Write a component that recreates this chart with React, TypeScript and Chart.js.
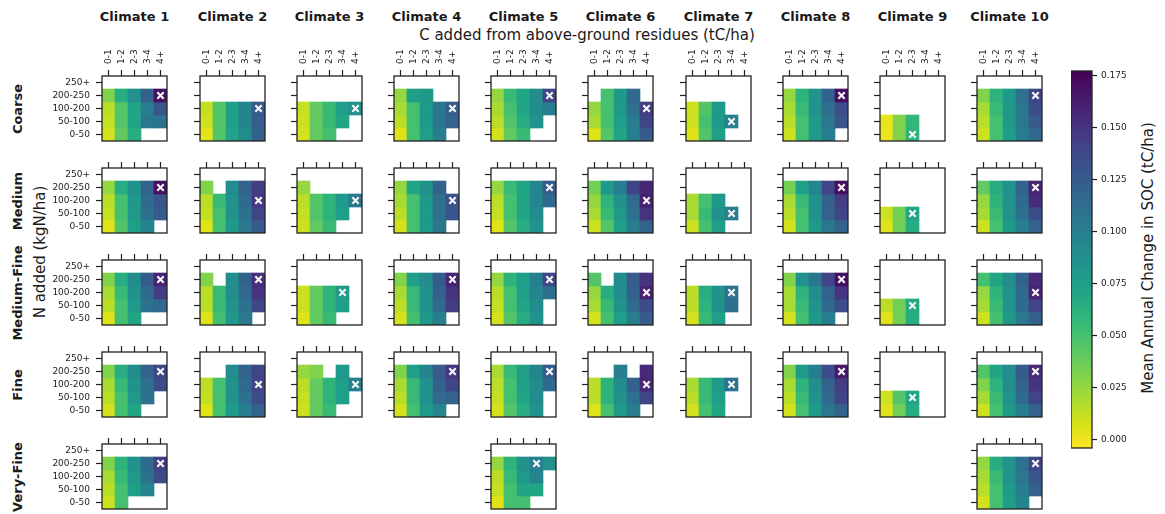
import React, { useEffect, useRef } from "react";
import { Chart, registerables } from "chart.js";
Chart.register(...registerables);

const FONT = "'DejaVu Sans', sans-serif";

// ---------------- DATA ----------------
const CLIMATES = ["Climate 1", "Climate 2", "Climate 3", "Climate 4", "Climate 5", "Climate 6", "Climate 7", "Climate 8", "Climate 9", "Climate 10"];
const SOILS = ["Coarse", "Medium", "Medium-Fine", "Fine", "Very-Fine"];
const C_BINS = ["0-1", "1-2", "2-3", "3-4", "4+"];
const N_BINS = ["250+", "200-250", "100-200", "50-100", "0-50"]; // top to bottom
const CBAR_TICKS = [0, 0.025, 0.05, 0.075, 0.1, 0.125, 0.15, 0.175];
const CBAR_MIN = -0.004;
const CBAR_MAX = 0.177;

const _ = null;
const E = [_, _, _, _, _];

// each grid: rows top->bottom (250+, 200-250, 100-200, 50-100, 0-50), columns C bins
const COARSE = [
  [E, [0.03, 0.065, 0.085, 0.12, 0.17], [0.015, 0.045, 0.07, 0.1, 0.13], [0.012, 0.045, 0.07, 0.105, 0.108], [0.008, 0.04, 0.065, _, _]],
  [E, E, [0.012, 0.045, 0.075, 0.095, 0.125], [0.01, 0.045, 0.075, 0.095, 0.122], [0.004, 0.045, 0.072, 0.09, 0.12]],
  [E, E, [0.012, 0.04, 0.055, 0.075, 0.088], [0.01, 0.04, 0.055, 0.07, _], [0.008, 0.04, 0.05, _, _]],
  [E, [0.025, 0.075, 0.08, _, _], [0.02, 0.05, 0.08, 0.105, 0.125], [0.015, 0.05, 0.08, 0.105, 0.12], [0.005, 0.05, 0.075, 0.1, _]],
  [E, [0.025, 0.055, 0.07, 0.09, 0.14], [0.02, 0.05, 0.07, 0.09, 0.1], [0.015, 0.045, 0.065, 0.085, _], [0.008, 0.04, 0.055, _, _]],
  [E, [_, 0.05, 0.08, 0.115, _], [0.025, 0.05, 0.08, 0.11, 0.145], [0.02, 0.05, 0.075, 0.1, 0.14], [0.005, 0.045, 0.07, 0.1, 0.125]],
  [E, E, [0.01, 0.045, 0.08, _, _], [0.01, 0.05, 0.08, 0.1, _], [0.005, 0.045, 0.075, _, _]],
  [E, [0.025, 0.06, 0.085, 0.12, 0.17], [0.02, 0.055, 0.085, 0.11, 0.135], [0.015, 0.05, 0.08, 0.105, 0.13], [0.01, 0.05, 0.08, 0.1, _]],
  [E, E, E, [0.002, 0.03, 0.058, _, _], [0.001, 0.03, 0.06, _, _]],
  [E, [0.03, 0.06, 0.08, 0.11, 0.14], [0.02, 0.055, 0.08, 0.105, 0.135], [0.015, 0.05, 0.08, 0.105, 0.125], [0.01, 0.05, 0.075, 0.1, 0.115]],
];

const MEDIUM = [
  [E, [0.025, 0.065, 0.085, 0.12, 0.17], [0.015, 0.05, 0.08, 0.115, 0.13], [0.012, 0.05, 0.08, 0.11, 0.125], [0.005, 0.045, 0.075, 0.095, _]],
  [E, [0.03, _, 0.09, 0.12, 0.145], [0.015, 0.055, 0.085, 0.115, 0.148], [0.012, 0.05, 0.085, 0.11, 0.14], [0.005, 0.05, 0.08, 0.105, 0.125]],
  [E, [0.025, _, _, _, _], [0.015, 0.045, 0.06, 0.08, 0.105], [0.012, 0.045, 0.06, 0.075, _], [0.01, 0.04, 0.055, _, _]],
  [E, [0.025, 0.07, 0.085, 0.12, _], [0.02, 0.05, 0.08, 0.11, 0.132], [0.015, 0.05, 0.08, 0.11, 0.13], [0.008, 0.05, 0.08, 0.105, _]],
  [E, [0.025, 0.055, 0.07, 0.095, 0.125], [0.015, 0.05, 0.07, 0.095, 0.115], [0.012, 0.05, 0.07, 0.09, _], [0.005, 0.045, 0.065, 0.085, _]],
  [E, [0.035, 0.08, 0.1, 0.14, 0.158], [0.025, 0.06, 0.085, 0.115, 0.162], [0.02, 0.055, 0.08, 0.11, 0.15], [0.01, 0.045, 0.075, 0.1, 0.12]],
  [E, E, [0.02, 0.05, 0.08, _, _], [0.02, 0.055, 0.085, 0.1, _], [0.01, 0.05, 0.075, _, _]],
  [E, [0.035, 0.075, 0.095, 0.14, 0.17], [0.02, 0.055, 0.085, 0.12, 0.145], [0.015, 0.05, 0.085, 0.12, 0.14], [0.008, 0.05, 0.08, 0.105, 0.12]],
  [E, E, E, [0.01, 0.035, 0.07, _, _], [0.005, 0.035, 0.065, _, _]],
  [E, [0.04, 0.065, 0.085, 0.12, 0.16], [0.025, 0.06, 0.085, 0.115, 0.155], [0.02, 0.055, 0.085, 0.11, 0.135], [0.01, 0.05, 0.08, 0.1, 0.12]],
];

const MEDIUM_FINE = [
  [E, [0.03, 0.065, 0.09, 0.125, 0.16], [0.02, 0.055, 0.085, 0.115, 0.145], [0.015, 0.05, 0.08, 0.11, 0.115], [0.005, 0.05, 0.07, _, _]],
  [E, [0.03, _, 0.09, 0.12, 0.152], [0.015, 0.055, 0.09, 0.115, 0.15], [0.015, 0.055, 0.085, 0.11, 0.14], [0.005, 0.05, 0.08, 0.105, _]],
  [E, E, [0.01, 0.04, 0.06, 0.078, _], [0.01, 0.04, 0.06, 0.075, _], [0.005, 0.04, 0.055, _, _]],
  [E, [0.03, 0.075, 0.09, 0.125, 0.16], [0.02, 0.055, 0.085, 0.12, 0.15], [0.015, 0.055, 0.085, 0.115, 0.145], [0.008, 0.05, 0.08, 0.1, _]],
  [E, [0.025, 0.06, 0.075, 0.1, 0.14], [0.015, 0.05, 0.075, 0.095, 0.11], [0.012, 0.05, 0.07, 0.09, _], [0.008, 0.045, 0.065, 0.085, _]],
  [E, [0.045, _, 0.09, 0.125, 0.15], [0.025, 0.065, 0.09, 0.12, 0.16], [0.02, 0.055, 0.085, 0.115, 0.135], [0.008, 0.05, 0.075, 0.1, 0.125]],
  [E, E, [0.015, 0.065, 0.085, 0.112, _], [0.015, 0.06, 0.085, 0.11, _], [0.008, 0.055, 0.075, _, _]],
  [E, [0.03, 0.085, 0.105, 0.14, 0.17], [0.02, 0.06, 0.09, 0.12, 0.15], [0.02, 0.055, 0.085, 0.115, 0.135], [0.008, 0.05, 0.08, 0.1, _]],
  [E, E, E, [0.015, 0.035, 0.067, _, _], [0.005, 0.035, 0.065, _, _]],
  [E, [0.05, 0.07, 0.09, 0.12, 0.155], [0.025, 0.06, 0.085, 0.115, 0.16], [0.02, 0.055, 0.085, 0.115, 0.14], [0.01, 0.05, 0.08, 0.105, 0.12]],
];

const FINE = [
  [E, [0.03, 0.065, 0.09, 0.12, 0.14], [0.02, 0.055, 0.085, 0.11, 0.135], [0.015, 0.05, 0.08, 0.11, _], [0.008, 0.05, 0.07, _, _]],
  [E, [_, _, 0.09, 0.12, 0.14], [0.015, 0.05, 0.085, 0.115, 0.142], [0.012, 0.05, 0.085, 0.11, 0.135], [0.005, 0.05, 0.08, 0.1, 0.12]],
  [E, [0.025, 0.03, _, 0.08, _], [0.015, 0.04, 0.06, 0.075, 0.1], [0.012, 0.04, 0.06, 0.075, _], [0.01, 0.04, 0.055, _, _]],
  [E, [0.03, 0.075, 0.095, 0.125, 0.15], [0.02, 0.055, 0.085, 0.12, 0.14], [0.015, 0.055, 0.085, 0.115, 0.12], [0.008, 0.05, 0.08, 0.095, _]],
  [E, [0.02, 0.055, 0.075, 0.095, 0.125], [0.015, 0.05, 0.075, 0.09, 0.115], [0.012, 0.05, 0.07, 0.09, _], [0.008, 0.045, 0.065, 0.085, _]],
  [E, [_, _, 0.1, _, 0.155], [0.015, 0.06, 0.09, 0.12, 0.158], [0.015, 0.06, 0.085, 0.11, 0.14], [0.005, 0.05, 0.08, 0.1, _]],
  [E, E, [0.02, 0.055, 0.08, 0.11, _], [0.015, 0.055, 0.075, _, _], [0.008, 0.05, 0.07, _, _]],
  [E, [0.03, 0.08, 0.1, 0.135, 0.165], [0.02, 0.06, 0.09, 0.12, 0.145], [0.015, 0.055, 0.085, 0.115, 0.14], [0.008, 0.05, 0.08, 0.105, 0.12]],
  [E, E, E, [0.01, 0.045, 0.07, _, _], [0.005, 0.035, 0.065, _, _]],
  [E, [0.045, 0.07, 0.09, 0.125, 0.155], [0.03, 0.06, 0.09, 0.12, 0.15], [0.02, 0.055, 0.085, 0.115, 0.14], [0.01, 0.05, 0.08, 0.1, 0.12]],
];

const VERY_FINE = [
  [E, [0.03, 0.06, 0.085, 0.115, 0.145], [0.02, 0.055, 0.08, 0.11, 0.135], [0.015, 0.05, 0.075, 0.095, _], [0.01, 0.05, _, _, _]],
  null,
  null,
  null,
  [E, [0.025, 0.06, 0.085, 0.1, 0.085], [0.015, 0.055, 0.08, 0.095, _], [0.012, 0.05, 0.07, 0.07, _], [0.005, 0.05, 0.05, _, _]],
  null,
  null,
  null,
  null,
  [E, [0.025, 0.065, 0.085, 0.11, 0.14], [0.02, 0.055, 0.085, 0.105, 0.13], [0.015, 0.05, 0.08, 0.1, 0.12], [0.008, 0.05, 0.075, 0.095, _]],
];

const SOIL_GRIDS = [COARSE, MEDIUM, MEDIUM_FINE, FINE, VERY_FINE];

// ---------------- COLORMAP (viridis) ----------------
const VIRIDIS = [
  "#440154", "#471365", "#482475", "#463480", "#414487", "#3b528b", "#355f8d",
  "#2f6c8e", "#2a788e", "#25848e", "#21918c", "#1e9c89", "#22a884", "#2fb47c",
  "#44bf70", "#5ec962", "#7ad151", "#9bd93c", "#bddf26", "#dfe318", "#fde725",
];
function hexToRgb(h: string) {
  return [parseInt(h.slice(1, 3), 16), parseInt(h.slice(3, 5), 16), parseInt(h.slice(5, 7), 16)];
}
const VIR_RGB = VIRIDIS.map(hexToRgb);
function viridis(t: number) {
  const x = Math.max(0, Math.min(1, t)) * (VIR_RGB.length - 1);
  const i = Math.min(VIR_RGB.length - 2, Math.floor(x));
  const f = x - i;
  const a = VIR_RGB[i], b = VIR_RGB[i + 1];
  const c = a.map((v, k) => Math.round(v + (b[k] - v) * f));
  return `rgb(${c[0]},${c[1]},${c[2]})`;
}
function colorFor(v: number) {
  const t = (v - CBAR_MIN) / (CBAR_MAX - CBAR_MIN);
  return viridis(1 - t); // reversed viridis
}

// ---------------- LAYOUT ----------------
const PANEL = 65;
const PAD = 16;
const TICK_FONT = 9;
const panelLeft = (c: number) => Math.round(102.3 + c * 97.2);
const panelTop = (r: number) => Math.round(76 + r * 91.9);
const INK = "#222";

const framePlugin = {
  id: "frame",
  afterDatasetsDraw(chart: any) {
    const { ctx, chartArea } = chart;
    const { left, top, right, bottom } = chartArea;
    ctx.save();
    ctx.strokeStyle = INK;
    ctx.lineWidth = 1.3;
    ctx.strokeRect(left, top, right - left, bottom - top);
    ctx.restore();
  },
};

function Panel({ grid, row, col }: { grid: (number | null)[][]; row: number; col: number }) {
  const ref = useRef<HTMLCanvasElement>(null);
  const yW = col === 0 ? 60 : 16;
  const xH = row === 0 ? 40 : 16;
  const w = yW + PANEL + PAD;
  const h = xH + PANEL + PAD;
  useEffect(() => {
    const nRows = N_BINS.length;
    let best = -Infinity, bi = -1, bj = -1;
    grid.forEach((vals, r) =>
      vals.forEach((v, c) => {
        if (v != null && v > best) { best = v; bi = r; bj = c; }
      })
    );
    const datasets: any[] = grid.map((vals, r) => ({
      type: "bar",
      data: vals.map((v) => (v == null ? null : [nRows - 1 - r, nRows - r])),
      backgroundColor: vals.map((v) => (v == null ? "rgba(0,0,0,0)" : colorFor(v))),
      borderWidth: 0,
      barPercentage: 1,
      categoryPercentage: 1,
      grouped: false,
      order: 1,
    }));
    datasets.push({
      type: "line",
      data: C_BINS.map((_l, c) => (c === bj ? nRows - bi - 0.5 : null)),
      showLine: false,
      pointStyle: "crossRot",
      pointRadius: 4.5,
      pointBorderWidth: 2.2,
      pointBorderColor: "#f6f6f6",
      pointBackgroundColor: "#f6f6f6",
      order: 0,
    });
    const tickGrid = { drawOnChartArea: false, drawTicks: true, tickLength: 6, tickColor: INK, tickWidth: 1.2, offset: false };
    const chart = new Chart(ref.current as HTMLCanvasElement, {
      type: "bar",
      data: { labels: C_BINS, datasets },
      options: {
        responsive: false,
        animation: false,
        events: [],
        layout: { padding: { left: 0, top: 0, right: PAD, bottom: PAD } },
        plugins: { legend: { display: false }, tooltip: { enabled: false } },
        scales: {
          x: {
            type: "category",
            position: "top",
            offset: true,
            grid: tickGrid,
            border: { display: false },
            ticks: {
              display: row === 0,
              autoSkip: false,
              minRotation: 90,
              maxRotation: 90,
              padding: 6,
              labelOffset: TICK_FONT * 1.2,
              color: INK,
              font: { family: FONT, size: TICK_FONT },
            },
            afterFit: (s: any) => { s.height = xH; },
          },
          y: {
            type: "linear",
            position: "left",
            min: 0,
            max: nRows,
            grid: tickGrid,
            border: { display: false },
            afterBuildTicks: (s: any) => {
              s.ticks = N_BINS.map((_l, i) => ({ value: i + 0.5 }));
            },
            ticks: {
              display: col === 0,
              padding: 6,
              color: INK,
              font: { family: FONT, size: TICK_FONT },
              callback: (v: any) => N_BINS[nRows - 1 - Math.floor(Number(v))],
            },
            afterFit: (s: any) => { s.width = yW; },
          },
        },
      } as any,
      plugins: [framePlugin],
    });
    return () => chart.destroy();
  }, []);
  return (
    <canvas
      ref={ref}
      width={w}
      height={h}
      style={{ position: "absolute", left: panelLeft(col) - yW, top: panelTop(row) - xH, width: w, height: h }}
    />
  );
}

const CB_LEFT = 1071, CB_TOP = 71, CB_W = 21, CB_H = 377, CB_AXIS = 50;

function ColorBar() {
  const ref = useRef<HTMLCanvasElement>(null);
  const w = CB_W + CB_AXIS;
  const h = CB_H + 2 * PAD;
  useEffect(() => {
    const chart = new Chart(ref.current as HTMLCanvasElement, {
      type: "bar",
      data: {
        labels: ["cb"],
        datasets: [{
          data: [[CBAR_MIN, CBAR_MAX]],
          borderWidth: 0,
          barPercentage: 1,
          categoryPercentage: 1,
          backgroundColor: (ctx: any) => {
            const ca = ctx.chart.chartArea;
            if (!ca) return "rgba(0,0,0,0)";
            const g = ctx.chart.ctx.createLinearGradient(0, ca.bottom, 0, ca.top);
            const n = 40;
            for (let i = 0; i <= n; i++) {
              const t = i / n;
              g.addColorStop(t, colorFor(CBAR_MIN + t * (CBAR_MAX - CBAR_MIN)));
            }
            return g;
          },
        }],
      },
      options: {
        responsive: false,
        animation: false,
        events: [],
        layout: { padding: { left: 0, top: PAD, right: 0, bottom: PAD } },
        plugins: { legend: { display: false }, tooltip: { enabled: false } },
        scales: {
          x: { display: false, offset: true },
          y: {
            type: "linear",
            position: "right",
            min: CBAR_MIN,
            max: CBAR_MAX,
            grid: { drawOnChartArea: false, drawTicks: true, tickLength: 5, tickColor: INK, tickWidth: 1.2 },
            border: { display: false },
            afterBuildTicks: (s: any) => { s.ticks = CBAR_TICKS.map((v) => ({ value: v })); },
            ticks: {
              padding: 4,
              color: INK,
              font: { family: FONT, size: TICK_FONT },
              callback: (v: any) => Number(v).toFixed(3),
            },
            afterFit: (s: any) => { s.width = CB_AXIS; },
          },
        },
      } as any,
      plugins: [framePlugin],
    });
    return () => chart.destroy();
  }, []);
  return (
    <canvas
      ref={ref}
      width={w}
      height={h}
      style={{ position: "absolute", left: CB_LEFT, top: CB_TOP - PAD, width: w, height: h }}
    />
  );
}

function Label({ text, cx, cy, size, bold, rotate }: { text: string; cx: number; cy: number; size: number; bold?: boolean; rotate?: boolean }) {
  return (
    <div
      style={{
        position: "absolute",
        left: cx,
        top: cy,
        transform: `translate(-50%, -50%)${rotate ? " rotate(-90deg)" : ""}`,
        whiteSpace: "nowrap",
        fontFamily: FONT,
        fontSize: size,
        fontWeight: bold ? "bold" : "normal",
        color: "#1a1a1a",
        lineHeight: 1,
      }}
    >
      {text}
    </div>
  );
}

export default function App() {
  return (
    <div style={{ position: "absolute", left: 0, top: 0, width: 1165, height: 514, background: "#fff", overflow: "hidden" }}>
      {CLIMATES.map((t, c) => (
        <Label key={"h" + c} text={t} cx={panelLeft(c) + PANEL / 2} cy={16} size={13} bold />
      ))}
      <Label text="C added from above-ground residues (tC/ha)" cx={587} cy={35} size={15} />
      {SOILS.map((s, r) => (
        <Label key={"s" + r} text={s} cx={17} cy={panelTop(r) + PANEL / 2} size={13} bold rotate />
      ))}
      <Label text="N added (kgN/ha)" cx={40} cy={252} size={15} rotate />
      <Label text="Mean Annual Change in SOC (tC/ha)" cx={1148} cy={258} size={15} rotate />
      {SOIL_GRIDS.map((grids, r) =>
        grids.map((g, c) => (g ? <Panel key={r + "-" + c} grid={g as any} row={r} col={c} /> : null))
      )}
      <ColorBar />
    </div>
  );
}
